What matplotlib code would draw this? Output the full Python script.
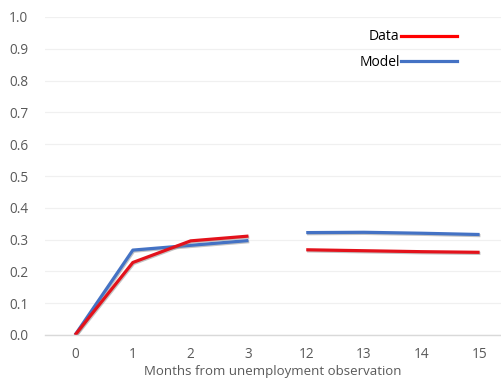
import matplotlib
matplotlib.use("Agg")
import matplotlib.pyplot as plt
import matplotlib.patheffects as pe
from matplotlib.lines import Line2D

months = ["0", "1", "2", "3", "12", "13", "14", "15"]
data_early = [0.0, 0.228, 0.296, 0.311]
data_late = [0.268, 0.265, 0.262, 0.260]
model_early = [0.0, 0.267, 0.282, 0.297]
model_late = [0.322, 0.323, 0.320, 0.316]
yticks = [0.0, 0.1, 0.2, 0.3, 0.4, 0.5, 0.6, 0.7, 0.8, 0.9, 1.0]

plt.rcParams['font.family'] = ['Open Sans', 'DejaVu Sans']

fig = plt.figure(figsize=(5.01, 3.81), dpi=100)
ax = fig.add_axes([45/501, 46/381, 1 - 45/501, (335-17)/381])

red = "#e3121b"
blue = "#4472c4"
shadow = [pe.SimpleLineShadow(offset=(0.6, -0.8), shadow_color="#888888", alpha=0.5), pe.Normal()]

x_early = list(range(0, 4))
x_late = list(range(4, 8))
ax.plot(x_early, model_early, color=blue, lw=2.3, path_effects=shadow, solid_capstyle='butt')
ax.plot(x_late, model_late, color=blue, lw=2.3, path_effects=shadow, solid_capstyle='butt')
ax.plot(x_early, data_early, color=red, lw=2.3, path_effects=shadow, solid_capstyle='butt')
ax.plot(x_late, data_late, color=red, lw=2.3, path_effects=shadow, solid_capstyle='butt')

ax.set_xlim(-0.52, 7.37)
ax.set_ylim(0, 1.0)
ax.set_xticks(range(len(months)))
ax.set_xticklabels(months)
ax.set_yticks(yticks)
ax.set_yticklabels([f"{v:.1f}" for v in yticks])
ax.tick_params(axis='both', length=0, colors="#595959", labelsize=9.8)
ax.tick_params(axis='x', pad=9)
ax.tick_params(axis='y', pad=12)
for s in ["top", "right", "left"]:
    ax.spines[s].set_visible(False)
ax.spines["bottom"].set_color("#d9d9d9")
ax.spines["bottom"].set_linewidth(1.0)
ax.yaxis.grid(True, color="#f0f0f0", lw=0.9)
ax.set_axisbelow(True)
ax.set_xlabel("Months from unemployment observation", color="#595959", fontsize=9.5, labelpad=2)

h1 = Line2D([], [], color="#ff0000", lw=2.3)
h2 = Line2D([], [], color=blue, lw=2.3)
leg = ax.legend([h1, h2], ["Data", "Model"], markerfirst=False, frameon=False,
                loc="upper right", bbox_to_anchor=(0.93, 1.0), handlelength=4.0,
                handletextpad=0.1, labelspacing=0.75, fontsize=10)

fig.savefig("out.png", dpi=100)
